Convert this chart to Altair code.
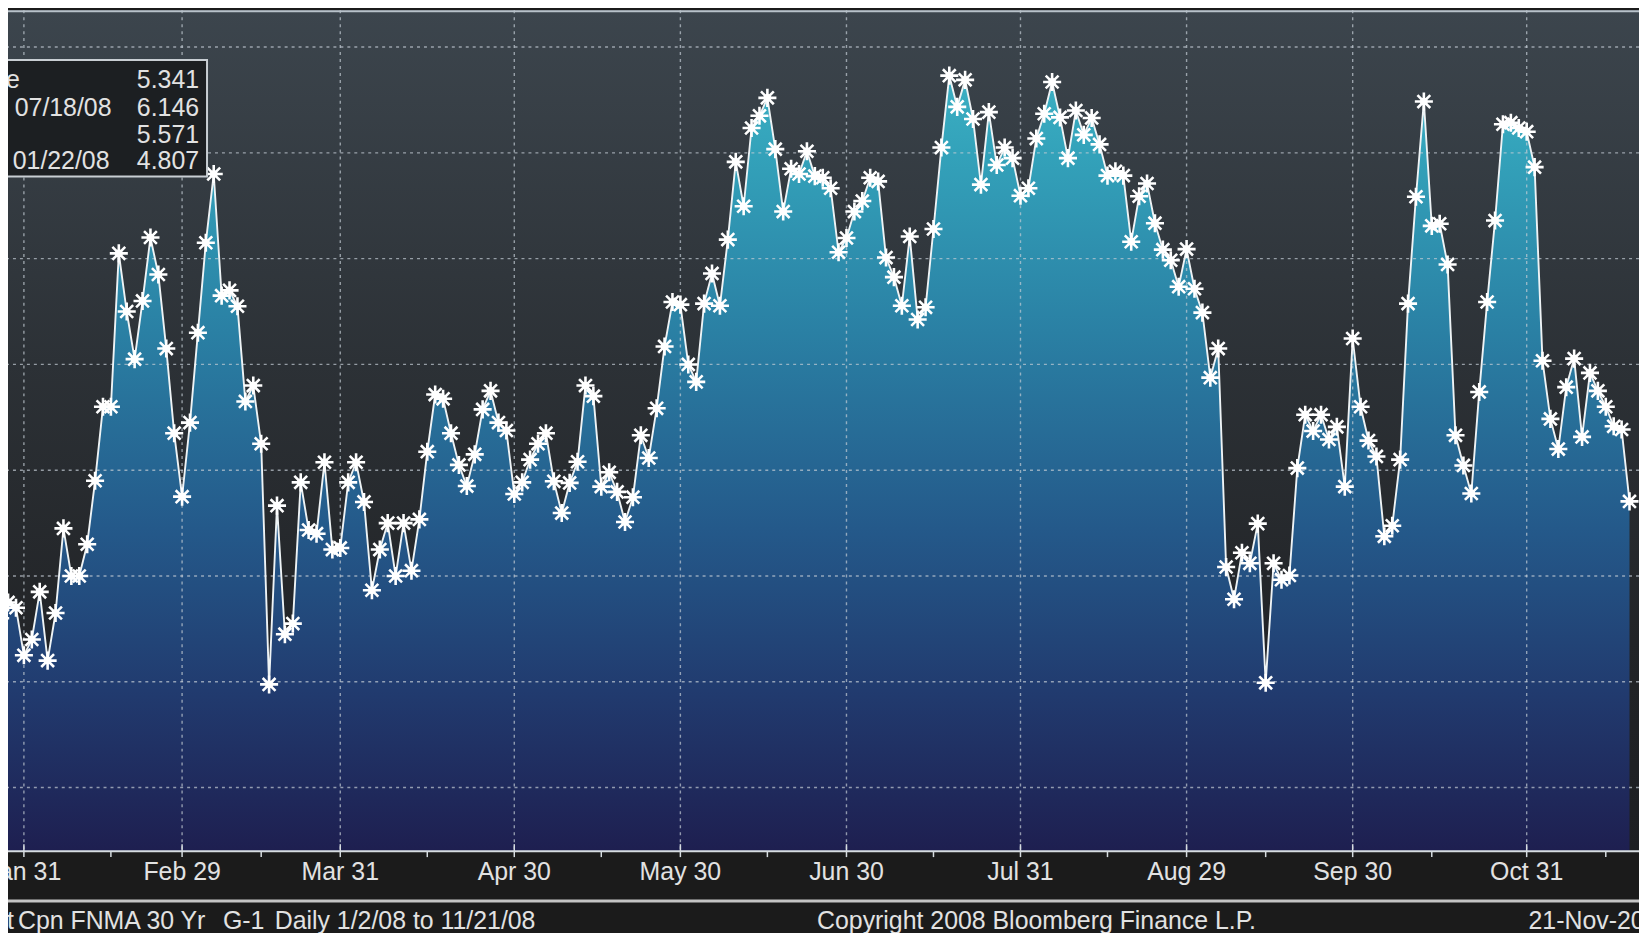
import altair as alt
import pandas as pd

# ---------------- data (Current Cpn FNMA 30 Yr, daily yields, 2008) ----------------
# trading-day index: 0 = Jan 31 2008; the series starts at index -3 (Jan 28)
first_index = -3
jan_vals = [5.12, 5.15, 5.14, 5.05]
feb_vals = [5.08, 5.17, 5.04, 5.13, 5.29, 5.20, 5.20, 5.26, 5.38, 5.52,
            5.52, 5.81, 5.70, 5.61, 5.72, 5.84, 5.77, 5.63, 5.47, 5.35]
mar_vals = [5.49, 5.66, 5.83, 5.96, 5.73, 5.74, 5.71, 5.53, 5.56, 5.45,
            4.995, 5.333, 5.09, 5.11, 5.377, 5.287, 5.28, 5.415, 5.25, 5.253]
apr_vals = [5.377, 5.415, 5.34, 5.173, 5.25, 5.30, 5.20, 5.30, 5.21, 5.307, 5.435,
            5.543, 5.535, 5.47, 5.41, 5.37, 5.43, 5.515, 5.55, 5.49, 5.475, 5.355]
may_vals = [5.377, 5.42, 5.45, 5.47, 5.379, 5.319, 5.376, 5.416, 5.56, 5.54, 5.369,
            5.396, 5.359, 5.302, 5.349, 5.466, 5.423, 5.517, 5.634, 5.718, 5.713]
jun_vals = [5.60, 5.567, 5.715, 5.772, 5.711, 5.836, 5.983, 5.899, 6.047, 6.07, 6.104,
            6.007, 5.889, 5.97, 5.96, 6.003, 5.956, 5.953, 5.933, 5.812, 5.839]
jul_vals = [5.889, 5.909, 5.953, 5.946, 5.802, 5.765, 5.711, 5.842, 5.685, 5.708, 5.856,
            6.01, 6.146, 6.087, 6.138, 6.064, 5.94, 6.077, 5.977, 6.01, 5.99, 5.919]
aug_vals = [5.933, 6.027, 6.074, 6.134, 6.067, 5.99, 6.08, 6.034, 6.066, 6.016, 5.957,
            5.965, 5.957, 5.832, 5.918, 5.942, 5.867, 5.817, 5.797, 5.747, 5.818]
sep_vals = [5.743, 5.698, 5.575, 5.63, 5.217, 5.156, 5.244, 5.224, 5.299, 4.998, 5.224,
            5.193, 5.201, 5.404, 5.505, 5.474, 5.505, 5.458, 5.482, 5.369, 5.649]
oct_vals = [5.52, 5.456, 5.426, 5.275, 5.295, 5.42, 5.715, 5.917, 6.097, 5.862, 5.866,
            5.789, 5.466, 5.409, 5.356, 5.548, 5.718, 5.872, 6.054, 6.057, 6.047, 6.04]
nov_vals = [5.973, 5.607, 5.497, 5.44, 5.557, 5.611, 5.463, 5.584, 5.55, 5.52, 5.483,
            5.477, 5.341]

month_end_index = [0, 20, 40, 62, 83, 104, 126, 147, 168, 190]
month_end_label = ["Jan 31", "Feb 29", "Mar 31", "Apr 30", "May 30", "Jun 30",
                   "Jul 31", "Aug 29", "Sep 30", "Oct 31"]
mid_month_index = [11, 30, 51, 73, 94, 115, 137, 157, 178, 200]
grid_levels = [4.8, 5.0, 5.2, 5.4, 5.6, 5.8, 6.0, 6.2]

legend_labels = ["Last Price", "High on 07/18/08", "Average", "Low on 01/22/08"]
legend_values = ["5.341", "6.146", "5.571", "4.807"]

footer_texts = ["Current", "Cpn FNMA 30 Yr", "G-1", "Daily  1/2/08 to 11/21/08",
                "Copyright 2008 Bloomberg Finance L.P.", "21-Nov-2008"]

# ---------------- tables ----------------
values = (jan_vals + feb_vals + mar_vals + apr_vals + may_vals + jun_vals +
          jul_vals + aug_vals + sep_vals + oct_vals + nov_vals)
df = pd.DataFrame({"i": list(range(first_index, first_index + len(values))), "v": values})
months = pd.DataFrame({"g": month_end_index, "lab": month_end_label})
mids = pd.DataFrame({"m": mid_month_index})
hgrid = pd.DataFrame({"h": grid_levels})
one = pd.DataFrame({"k": [0]})

W, H = 1639, 845
PAD_B = 80
FONT = "Liberation Sans, Arial, sans-serif"
FS = 25
TXT = "#e2e2e2"
Y_LO, Y_HI = 4.6798, 6.2696

x_scale = alt.Scale(domain=[-2.01, 204.2], nice=False, zero=False)
y_scale = alt.Scale(domain=[Y_LO, Y_HI], nice=False, zero=False)

x_enc = alt.X("i:Q", scale=x_scale, axis=None)
y_enc = alt.Y("v:Q", scale=y_scale, axis=None)

# dark backdrop (absolute over the plot height)
bg_grad = alt.Gradient(gradient="linear", x1=0, x2=0, y1=0, y2=1, stops=[
    alt.GradientStop(color="#3c454d", offset=0.0),
    alt.GradientStop(color="#2c3136", offset=0.42),
    alt.GradientStop(color="#222427", offset=0.75),
    alt.GradientStop(color="#1d1f22", offset=1.0)])
# area fill (relative to the area's box: from the high point down to the bottom)
area_grad = alt.Gradient(gradient="linear", x1=0, x2=0, y1=0, y2=1, stops=[
    alt.GradientStop(color="#3cb0c3", offset=0.0),
    alt.GradientStop(color="#33a2ba", offset=0.1),
    alt.GradientStop(color="#2a80a4", offset=0.33),
    alt.GradientStop(color="#24598a", offset=0.585),
    alt.GradientStop(color="#213a6e", offset=0.8),
    alt.GradientStop(color="#1e1f50", offset=1.0)])

bg = alt.Chart(one).mark_rect(color=bg_grad).encode(
    x=alt.value(0), x2=alt.value(W), y=alt.value(0), y2=alt.value(H))
area = alt.Chart(df).mark_area(color=area_grad, clip=True).encode(
    x=x_enc, y=y_enc, y2=alt.datum(Y_LO))

vrules = alt.Chart(months).mark_rule(color="#c3ccd4", opacity=0.7, strokeWidth=1.4,
                                     strokeDash=[3, 4]).encode(
    x=alt.X("g:Q", scale=x_scale, axis=None))
hrules = alt.Chart(hgrid).mark_rule(color="#c3ccd4", opacity=0.7, strokeWidth=1.4,
                                    strokeDash=[3, 4]).encode(
    y=alt.Y("h:Q", scale=y_scale, axis=None))

line = alt.Chart(df).mark_line(color="#eef3f5", strokeWidth=1.9, clip=True).encode(
    x=x_enc, y=y_enc)

STAR = "M0,-1L0,1M-1,0L1,0M-0.71,-0.71L0.71,0.71M-0.71,0.71L0.71,-0.71"
stars = alt.Chart(df).mark_point(shape=STAR, filled=False, stroke="#ffffff",
                                 strokeWidth=2.6, size=330, opacity=1, clip=True).encode(
    x=x_enc, y=y_enc)
cores = alt.Chart(df).mark_circle(color="#ffffff", size=60, opacity=1, clip=True).encode(
    x=x_enc, y=y_enc)

top_line = alt.Chart(one).mark_rule(color="#b8c2ca", strokeWidth=2).encode(
    x=alt.value(0), x2=alt.value(W), y=alt.value(1))

# x axis: line, ticks, labels
axis_line = alt.Chart(one).mark_rule(color="#d6dce0", strokeWidth=2).encode(
    x=alt.value(0), x2=alt.value(W), y=alt.value(H))
major_ticks = alt.Chart(months).mark_rule(color="#d6dce0", strokeWidth=1.5).encode(
    x=alt.X("g:Q", scale=x_scale, axis=None), y=alt.value(H - 7), y2=alt.value(H + 6))
minor_ticks = alt.Chart(mids).mark_rule(color="#d6dce0", strokeWidth=1.5).encode(
    x=alt.X("m:Q", scale=x_scale, axis=None), y=alt.value(H), y2=alt.value(H + 6))
x_labels = alt.Chart(months).mark_text(
    align="center", baseline="middle", font=FONT, fontSize=FS, color=TXT).encode(
    x=alt.X("g:Q", scale=x_scale, axis=None), y=alt.value(H + 21), text="lab:N")

# legend box (cropped at the left edge, like the reference)
legend_box = alt.Chart(one).mark_rect(fill="#1c1f22", stroke="#c8ced3", strokeWidth=2).encode(
    x=alt.value(-2), x2=alt.value(200), y=alt.value(50), y2=alt.value(167))
row_y = [70, 98, 125, 152]
label_right = [12, 104, -8, 102]
legend_layers = []
for lab, val, yy, xr in zip(legend_labels, legend_values, row_y, label_right):
    legend_layers.append(alt.Chart(one).mark_text(
        align="right", baseline="middle", font=FONT, fontSize=FS, color=TXT).encode(
        x=alt.value(xr), y=alt.value(yy), text=alt.value(lab)))
    legend_layers.append(alt.Chart(one).mark_text(
        align="right", baseline="middle", font=FONT, fontSize=FS, color=TXT).encode(
        x=alt.value(192), y=alt.value(yy), text=alt.value(val)))

# footer
sep_line = alt.Chart(one).mark_rule(color="#c4c4c4", strokeWidth=3).encode(
    x=alt.value(-10), x2=alt.value(W + 10), y=alt.value(H + 50))
footer_x = [6, 10, 216, 268, 813, 1528]
footer_align = ["right", "left", "left", "left", "left", "left"]
footer_layers = []
for t, fx, al in zip(footer_texts, footer_x, footer_align):
    footer_layers.append(alt.Chart(one).mark_text(
        align=al, baseline="middle", font=FONT, fontSize=FS, color=TXT).encode(
        x=alt.value(fx), y=alt.value(H + 70), text=alt.value(t)))

chart = alt.layer(
    bg, area, vrules, hrules, line, stars, cores, top_line,
    axis_line, major_ticks, minor_ticks, x_labels, legend_box,
    *legend_layers, sep_line, *footer_layers
).properties(
    width=W, height=H,
    autosize=alt.AutoSizeParams(type="none"),
    padding={"left": 0, "top": 0, "right": 0, "bottom": PAD_B},
    background="#1b1b1b",
).configure_view(stroke=None)

chart.save("out.html", embed_options={"renderer": "svg", "actions": False})
